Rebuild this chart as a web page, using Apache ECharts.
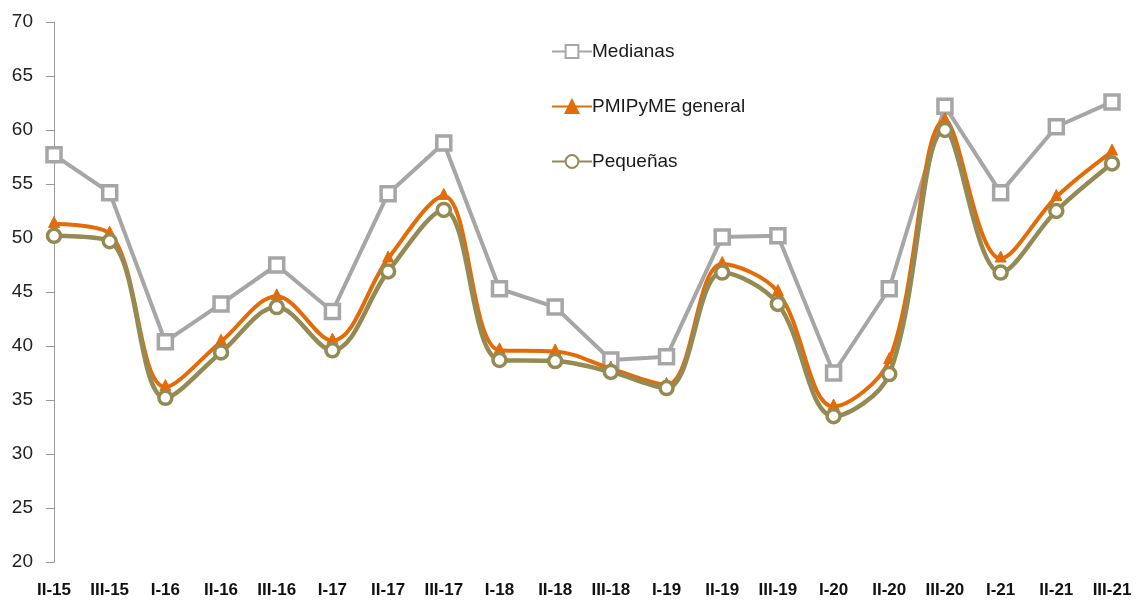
<!DOCTYPE html>
<html>
<head>
<meta charset="utf-8">
<script src="https://cdn.jsdelivr.net/npm/echarts@6/dist/echarts.min.js"></script>
<style>
  html, body { margin: 0; padding: 0; background: #fff; }
  #chart { width: 1137px; height: 604px; }
</style>
</head>
<body>
<div id="chart"></div>
<script>
var categories = ['II-15','III-15','I-16','II-16','III-16','I-17','II-17','III-17','I-18','II-18',
  'III-18','I-19','II-19','III-19','I-20','II-20','III-20','I-21','II-21','III-21'];

var medianas = [57.7, 54.2, 40.4, 43.9, 47.5, 43.2, 54.1, 58.8, 45.3, 43.6,
  38.7, 39.0, 50.1, 50.2, 37.5, 45.3, 62.2, 54.2, 60.3, 62.6];

var general = [51.3, 50.4, 36.2, 40.4, 44.6, 40.5, 48.1, 53.9, 39.6, 39.5,
  37.9, 36.4, 47.6, 45.0, 34.4, 38.7, 60.9, 48.1, 53.8, 58.0];

var pequenas = [50.2, 49.7, 35.2, 39.4, 43.6, 39.6, 46.9, 52.6, 38.7, 38.6,
  37.6, 36.1, 46.8, 43.9, 33.5, 37.4, 60.0, 46.8, 52.5, 56.9];

var chart = echarts.init(document.getElementById('chart'));

var option = {
  animation: false,
  grid: { left: 54, right: 25, top: 22, bottom: 42, containLabel: false },
  legend: {
    orient: 'vertical',
    left: 546,
    top: 37,
    itemGap: 36,
    itemWidth: 40,
    itemHeight: 16,
    textStyle: { fontFamily: 'Liberation Sans, Arial', fontSize: 19, color: '#1a1a1a', padding: [0, 0, 0, -5] },
    data: ['Medianas', 'PMIPyME general', 'Pequeñas']
  },
  xAxis: {
    type: 'category',
    data: categories,
    boundaryGap: false,
    axisLine: { show: false },
    axisTick: { show: false },
    axisLabel: {
      interval: 0,
      margin: 20,
      fontFamily: 'Liberation Sans, Arial',
      fontSize: 17,
      fontWeight: 'bold',
      color: '#111'
    }
  },
  yAxis: {
    type: 'value',
    min: 20,
    max: 70,
    interval: 5,
    splitLine: { show: false },
    axisLine: { show: true, lineStyle: { color: '#999', width: 1 } },
    axisTick: { show: true, inside: false, length: 8, lineStyle: { color: '#999' } },
    axisLabel: {
      margin: 21,
      fontFamily: 'Liberation Sans, Arial',
      fontSize: 19,
      color: '#222'
    }
  },
  series: [
    {
      name: 'Medianas',
      type: 'line',
      data: medianas,
      z: 2,
      symbol: 'rect',
      symbolSize: 14,
      showAllSymbol: true,
      lineStyle: { color: '#a6a6a6', width: 4 },
      itemStyle: { color: '#ffffff', borderColor: '#a6a6a6', borderWidth: 3.5 }
    },
    {
      name: 'PMIPyME general',
      type: 'line',
      data: general,
      z: 3,
      smooth: 0.35,
      symbol: 'triangle',
      symbolSize: 11,
      symbolOffset: [0, -2],
      showAllSymbol: true,
      lineStyle: { color: '#e36c09', width: 4 },
      itemStyle: { color: '#e36c09', borderColor: '#e36c09', borderWidth: 1 }
    },
    {
      name: 'Pequeñas',
      type: 'line',
      data: pequenas,
      z: 4,
      smooth: 0.35,
      symbol: 'circle',
      symbolSize: 13,
      showAllSymbol: true,
      lineStyle: { color: '#948a54', width: 4.5 },
      itemStyle: { color: '#ffffff', borderColor: '#948a54', borderWidth: 3.5 }
    }
  ]
};

chart.setOption(option);
window.onresize = function () { chart.resize(); };
</script>
</body>
</html>
